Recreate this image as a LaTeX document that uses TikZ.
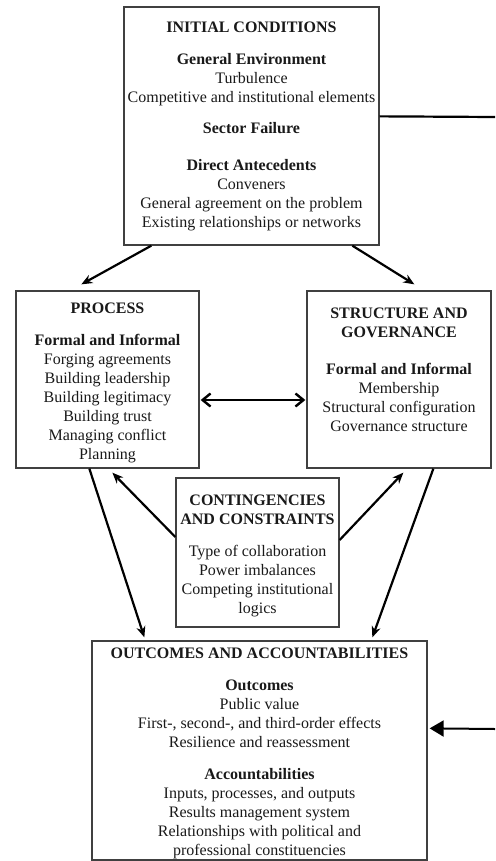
\documentclass[tikz,border=0pt]{standalone}
\usepackage{fontspec}
\setmainfont{Liberation Serif}
\usetikzlibrary{calc,arrows.meta}
\begin{document}
\begin{tikzpicture}[
  x=1pt,y=1pt,
  box/.style={draw=black!75, line width=1.3pt, inner sep=0pt, align=center,
    text=black!90, font=\fontsize{16}{19}\selectfont},
  conn/.style={line width=2.2pt, -{Stealth[length=11pt,width=9pt]}},
  both/.style={line width=2.4pt, {Straight Barb[length=8pt,width=13pt]}-{Straight Barb[length=8pt,width=13pt]}},
  bigtip/.style={line width=2pt, -{Triangle[length=14pt,width=16pt]}},
  plain/.style={line width=2.2pt}
]
\useasboundingbox (0,0) rectangle (495,-861);
\node[box, minimum width=255pt, minimum height=238pt] (init) at (251.5,-126) {%
\textbf{INITIAL CONDITIONS}\\[13pt]
\textbf{General Environment}\\
Turbulence\\
Competitive and institutional elements\\[12pt]
\textbf{Sector Failure}\\[18pt]
\textbf{Direct Antecedents}\\
Conveners\\
General agreement on the problem\\
Existing relationships or networks};
\node[box, minimum width=183pt, minimum height=177pt] (proc) at (107.5,-379.5) {%
\mbox{}\\[-2pt]
\textbf{PROCESS}\\[13pt]
\textbf{Formal and Informal}\\
Forging agreements\\
Building leadership\\
Building legitimacy\\
Building trust\\
Managing conflict\\
Planning};
\node[box, minimum width=184pt, minimum height=177pt] (struct) at (399,-379.5) {%
\textbf{STRUCTURE AND}\\
\textbf{GOVERNANCE}\\[18pt]
\textbf{Formal and Informal}\\
Membership\\
Structural configuration\\
Governance structure\\[1pt]
\mbox{}};
\node[box, minimum width=163pt, minimum height=149pt] (cont) at (257.5,-552.5) {%
\mbox{}\\[-2pt]
\textbf{CONTINGENCIES}\\
\textbf{AND CONSTRAINTS}\\[13pt]
Type of collaboration\\
Power imbalances\\
Competing institutional\\
logics};
\node[box, minimum width=335pt, minimum height=219pt] (out) at (259.5,-750.5) {%
\mbox{}\\[-2pt]
\textbf{OUTCOMES AND ACCOUNTABILITIES}\\[13pt]
\textbf{Outcomes}\\
Public value\\
First-, second-, and third-order effects\\
Resilience and reassessment\\[13pt]
\textbf{Accountabilities}\\
Inputs, processes, and outputs\\
Results management system\\
Relationships with political and\\
professional constituencies};
\coordinate (r1) at (495,-117);
\coordinate (r2) at (495,-729);
\draw[conn] ($(init.south west)+(28,0)$) -- ($(proc.north west)+(66,6)$);
\draw[conn] ($(init.south west)+(229,0)$) -- ($(struct.north west)+(108,6)$);
\draw[both] ($(proc.east)+(1,-20.5)$) -- ($(struct.west)+(-1,-20.5)$);
\draw[conn] ($(cont.west)+(0,15.5)$) -- ($(proc.south west)+(97,-4)$);
\draw[conn] ($(cont.east)+(0,12.5)$) -- ($(struct.south west)+(97,-4)$);
\draw[conn] ($(proc.south west)+(74,0)$) -- ($(out.north west)+(53,3)$);
\draw[conn] ($(struct.south west)+(127,0)$) -- ($(out.north west)+(281,3)$);
\draw[plain] ($(init.north east)+(0,-110)$) -- (r1);
\draw[bigtip] (r2) -- ($(out.north east)+(2,-88)$);
\end{tikzpicture}
\end{document}
